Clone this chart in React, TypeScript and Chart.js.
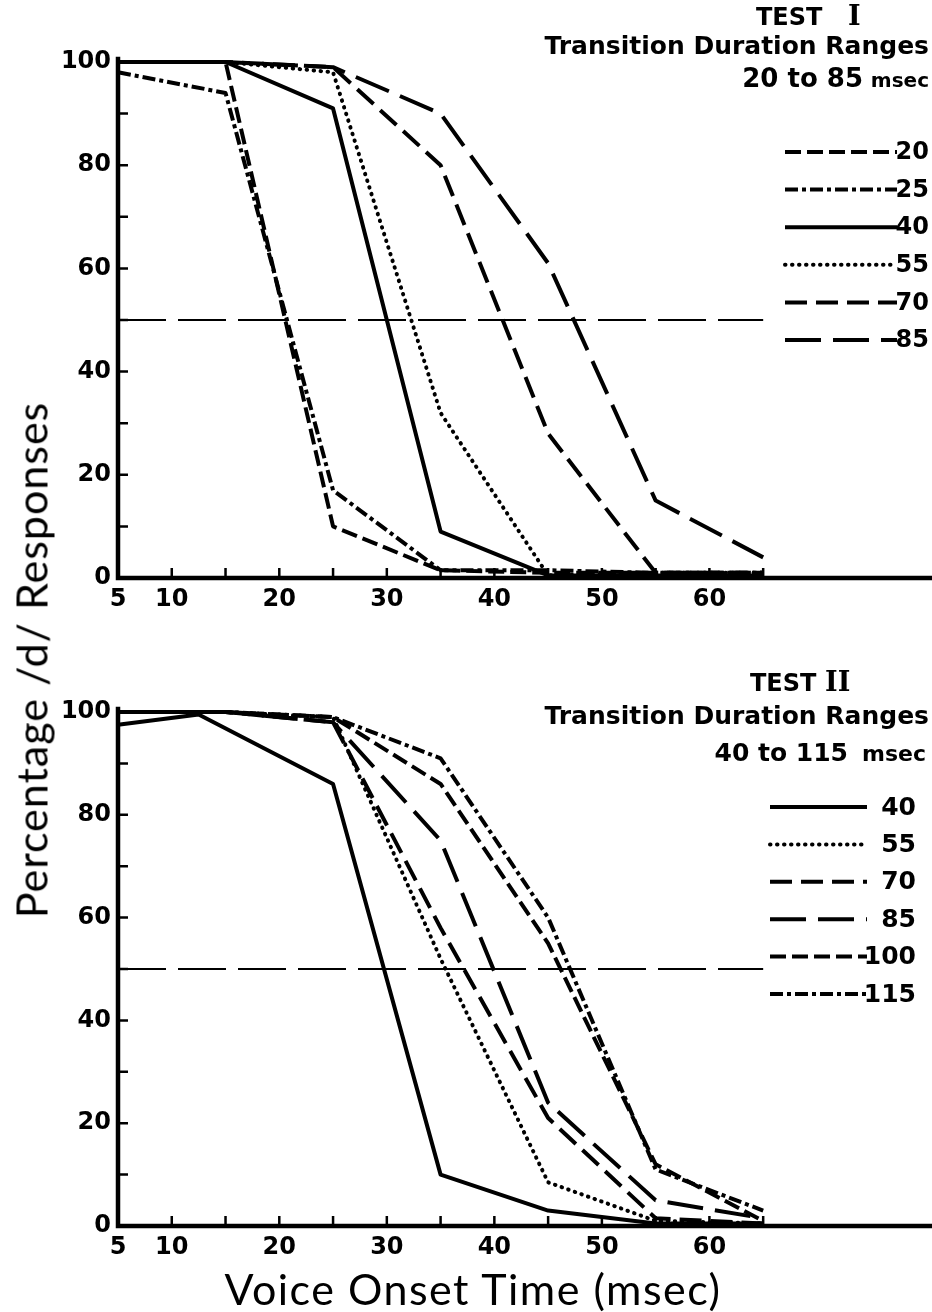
import React, { useEffect, useRef } from 'react';
import { Chart, registerables } from 'chart.js';

Chart.register(...registerables);

// ---------- data ----------
const VOT = [5, 15, 25, 35, 45, 55, 65];
const VOT_T2_40 = [5, 12.5, 25, 35, 45, 55, 65];
const CRIT_X = [5, 65];
const CRIT_Y = [50, 50];

// Test I  (transition durations 20 to 85 msec)
const T1_LABELS = ['20', '25', '40', '55', '70', '85'];
const T1_20 = [100, 100, 10, 1.5, 1, 1, 1];
const T1_25 = [98, 94, 17, 1.5, 1.5, 1, 1];
const T1_40 = [100, 100, 91, 9, 0.5, 0.5, 0.5];
const T1_55 = [100, 100, 98, 32, 0.5, 1, 1];
const T1_70 = [100, 100, 99, 80, 28, 1, 1];
const T1_85 = [100, 100, 99, 90, 61, 15, 4];

// Test II (transition durations 40 to 115 msec)
const T2_LABELS = ['40', '55', '70', '85', '100', '115'];
const T2_40 = [97.5, 99.5, 86, 10, 3, 0.5, 0.5];
const T2_55 = [100, 100, 99, 52, 8.5, 1, 0.5];
const T2_70 = [100, 100, 98, 58, 21, 1.5, 0.5];
const T2_85 = [100, 100, 98, 75, 24, 5, 1.5];
const T2_100 = [100, 100, 99, 86, 55, 12, 1];
const T2_115 = [100, 100, 99, 91, 60, 11, 3];

const Y_LABELS = [0, 20, 40, 60, 80, 100];
const Y_MARKS = [10, 20, 30, 40, 50, 60, 70, 80, 90];
const X_LABELS = [5, 10, 20, 30, 40, 50, 60];
const X_MARKS = [10, 15, 20, 25, 30, 35, 40, 45, 50, 55, 60, 65];
const X_MIN = 5;
const X_MAX = 80.7;

// ---------- styles ----------
const DASH_SOLID: number[] = [];
const DASH_DOT = [0.5, 6.5];
const DASH_SHORT = [16, 6];
const DASH_DASHDOT = [13, 4, 4, 4];
const DASH_MED = [22, 9];
const DASH_LONG = [36, 12];
const LINE_W = 4;

const pts = (xs: number[], ys: number[]) => xs.map((x, i) => ({ x, y: ys[i] }));

const line = (label: string, xs: number[], ys: number[], dash: number[], round = false) => ({
  label,
  data: pts(xs, ys),
  borderColor: '#000',
  backgroundColor: '#000',
  borderWidth: LINE_W,
  borderDash: dash,
  borderCapStyle: round ? 'round' : 'butt',
  borderJoinStyle: 'round',
  pointRadius: 0,
  tension: 0,
  fill: false,
  clip: false,
  inLegend: true,
});

const critLine = () => ({
  label: '',
  data: pts(CRIT_X, CRIT_Y),
  borderColor: '#000',
  borderWidth: 2,
  borderDash: [48, 12],
  pointRadius: 0,
  tension: 0,
  fill: false,
  clip: false,
  inLegend: false,
});

const datasetsTop = () => [
  line(T1_LABELS[0], VOT, T1_20, DASH_SHORT),
  line(T1_LABELS[1], VOT, T1_25, DASH_DASHDOT),
  line(T1_LABELS[2], VOT, T1_40, DASH_SOLID),
  line(T1_LABELS[3], VOT, T1_55, DASH_DOT, true),
  line(T1_LABELS[4], VOT, T1_70, DASH_MED),
  line(T1_LABELS[5], VOT, T1_85, DASH_LONG),
  critLine(),
];

const datasetsBottom = () => [
  line(T2_LABELS[0], VOT_T2_40, T2_40, DASH_SOLID),
  line(T2_LABELS[1], VOT, T2_55, DASH_DOT, true),
  line(T2_LABELS[2], VOT, T2_70, DASH_MED),
  line(T2_LABELS[3], VOT, T2_85, DASH_LONG),
  line(T2_LABELS[4], VOT, T2_100, DASH_SHORT),
  line(T2_LABELS[5], VOT, T2_115, DASH_DASHDOT),
  critLine(),
];

const BOLD = 'DejaVu Sans';

// axes + inward ticks
const axesPlugin = {
  id: 'inwardAxes',
  afterDatasetsDraw(chart: any) {
    const { ctx, chartArea, scales } = chart;
    const x = scales.x;
    const y = scales.y;
    ctx.save();
    ctx.strokeStyle = '#000';
    ctx.lineCap = 'butt';
    ctx.lineWidth = 4.5;
    ctx.beginPath();
    ctx.moveTo(chartArea.left, y.getPixelForValue(101));
    ctx.lineTo(chartArea.left, chartArea.bottom);
    ctx.lineTo(chartArea.right, chartArea.bottom);
    ctx.stroke();
    ctx.lineWidth = 2.5;
    ctx.beginPath();
    for (const v of Y_MARKS) {
      const py = y.getPixelForValue(v);
      ctx.moveTo(chartArea.left, py);
      ctx.lineTo(chartArea.left + 10, py);
    }
    for (const v of X_MARKS) {
      const px = x.getPixelForValue(v);
      ctx.moveTo(px, chartArea.bottom);
      ctx.lineTo(px, chartArea.bottom - 10);
    }
    ctx.stroke();
    ctx.restore();
  },
};

// legend + heading texts
const notesPlugin = {
  id: 'figNotes',
  afterDraw(chart: any, _args: any, opts: any) {
    const { ctx } = chart;
    ctx.save();
    ctx.fillStyle = '#000';
    for (const t of opts.texts || []) {
      ctx.font = t.font;
      ctx.textAlign = t.align;
      ctx.textBaseline = 'alphabetic';
      ctx.fillText(t.text, t.x, t.y);
    }
    const lg = opts.legend;
    let row = 0;
    ctx.textBaseline = 'middle';
    chart.data.datasets.forEach((ds: any) => {
      if (!ds.inLegend) return;
      const yy = lg.y0 + row * lg.dy;
      row++;
      ctx.save();
      ctx.strokeStyle = '#000';
      ctx.lineWidth = LINE_W;
      ctx.lineCap = ds.borderCapStyle || 'butt';
      ctx.setLineDash(ds.borderDash || []);
      ctx.beginPath();
      ctx.moveTo(lg.x0, yy);
      ctx.lineTo(lg.x1, yy);
      ctx.stroke();
      ctx.restore();
      ctx.font = lg.font;
      ctx.textAlign = 'right';
      ctx.fillText(ds.label, lg.tx, yy + 1);
    });
    ctx.restore();
  },
};

function makeConfig(datasets: any[], padTop: number, xAxisH: number, notes: any) {
  const tickFont = { family: BOLD, size: 24, weight: 'bold' as const };
  return {
    type: 'line' as const,
    data: { datasets },
    options: {
      animation: false,
      responsive: false,
      maintainAspectRatio: false,
      events: [],
      layout: { padding: { top: padTop, left: 0, right: 0, bottom: 0 } },
      plugins: {
        legend: { display: false },
        tooltip: { enabled: false },
        title: { display: false },
        figNotes: notes,
      },
      scales: {
        x: {
          type: 'linear',
          min: X_MIN,
          max: X_MAX,
          afterBuildTicks: (s: any) => {
            s.ticks = X_LABELS.map((v) => ({ value: v }));
          },
          afterFit: (s: any) => {
            s.height = xAxisH;
          },
          ticks: { font: tickFont, color: '#000', padding: 7, autoSkip: false, maxRotation: 0 },
          grid: { display: false, drawTicks: false },
          border: { display: false },
        },
        y: {
          type: 'linear',
          min: 0,
          max: 100,
          afterBuildTicks: (s: any) => {
            s.ticks = Y_LABELS.map((v) => ({ value: v }));
          },
          afterFit: (s: any) => {
            s.width = 118;
          },
          ticks: { font: tickFont, color: '#000', padding: 7 },
          grid: { display: false, drawTicks: false },
          border: { display: false },
        },
      },
    },
    plugins: [axesPlugin, notesPlugin],
  };
}

function Panel(props: { top: number; height: number; datasets: () => any[]; padTop: number; xAxisH: number; notes: any }) {
  const ref = useRef<HTMLCanvasElement>(null);
  useEffect(() => {
    const chart = new Chart(ref.current as HTMLCanvasElement, makeConfig(props.datasets(), props.padTop, props.xAxisH, props.notes) as any);
    return () => chart.destroy();
  }, []);
  return (
    <canvas
      ref={ref}
      width={932}
      height={props.height}
      style={{ position: 'absolute', left: 0, top: props.top, width: 932, height: props.height }}
    />
  );
}

const notesTop = {
  texts: [
    { text: 'TEST', x: 756, y: 25, font: `bold 24px ${BOLD}`, align: 'left' },
    { text: 'I', x: 848, y: 25, font: 'bold 27px "DejaVu Serif"', align: 'left' },
    { text: 'Transition Duration Ranges', x: 929, y: 54, font: `bold 25px ${BOLD}`, align: 'right' },
    { text: '20 to 85', x: 863, y: 87, font: `bold 26px ${BOLD}`, align: 'right' },
    { text: 'msec', x: 929, y: 87, font: `bold 20px ${BOLD}`, align: 'right' },
  ],
  legend: { x0: 785, x1: 897, tx: 929, y0: 152, dy: 37.6, font: `bold 24px ${BOLD}` },
};

const notesBottom = {
  texts: [
    { text: 'TEST', x: 750, y: 51, font: `bold 24px ${BOLD}`, align: 'left' },
    { text: 'II', x: 825, y: 51, font: 'bold 27px "DejaVu Serif"', align: 'left' },
    { text: 'Transition Duration Ranges', x: 929, y: 84, font: `bold 25px ${BOLD}`, align: 'right' },
    { text: '40 to 115', x: 848, y: 121, font: `bold 25px ${BOLD}`, align: 'right' },
    { text: 'msec', x: 926, y: 121, font: `bold 22px ${BOLD}`, align: 'right' },
  ],
  legend: { x0: 770, x1: 867, tx: 916, y0: 167, dy: 37.4, font: `bold 25px ${BOLD}` },
};

export default function App() {
  return (
    <div style={{ position: 'absolute', left: 0, top: 0, width: 932, height: 1312, background: '#fff', overflow: 'hidden' }}>
      <Panel top={0} height={640} datasets={datasetsTop} padTop={62} xAxisH={62} notes={notesTop} />
      <Panel top={640} height={672} datasets={datasetsBottom} padTop={72} xAxisH={86} notes={notesBottom} />
      <div
        style={{
          position: 'absolute',
          left: 31,
          top: 660,
          transform: 'translate(-50%, -50%) rotate(-90deg)',
          font: '43px Lato',
          letterSpacing: '1px',
          lineHeight: 1,
          whiteSpace: 'nowrap',
          color: '#000',
        }}
      >
        Percentage /d/ Responses
      </div>
      <div
        style={{
          position: 'absolute',
          left: 473,
          top: 1288,
          transform: 'translate(-50%, -50%)',
          font: '43px Lato',
          letterSpacing: '1.5px',
          lineHeight: 1,
          whiteSpace: 'nowrap',
          color: '#000',
        }}
      >
        Voice Onset Time (msec)
      </div>
    </div>
  );
}
